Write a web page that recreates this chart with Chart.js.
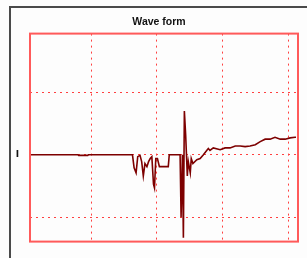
<!DOCTYPE html>
<html lang="en">
<head>
  <meta charset="UTF-8">
  <title>Wave form</title>
  <script src="https://cdn.jsdelivr.net/npm/chart.js@4.4.0/dist/chart.umd.min.js"></script>
  <style>
    body {
      margin: 0;
      background: #fdfdfd;
    }
    canvas {
      display: block;
    }
  </style>
</head>
<body>

<canvas id="waveChart" width="307" height="258"></canvas>

<script>
  // time axis (arbitrary units, grid every 10) and current samples
  const time = [0.7, 8.0, 8.1, 9.5, 9.6, 16.3, 16.55, 16.85, 17.1, 17.45, 17.7, 17.95, 18.2, 18.5, 18.75,
    19.0, 19.25, 19.5, 19.65, 19.85, 20.1, 20.4, 21.75, 21.9, 23.55, 23.7, 23.9, 24.05, 24.2, 24.4,
    24.65, 24.8, 25.1, 25.25, 25.5, 26.1, 26.6, 27.1, 27.6, 27.85, 28.1, 28.6, 29.65, 30.4, 31.15,
    31.95, 32.7, 33.45, 34.2, 35.0, 35.75, 36.5, 37.25, 38.0, 38.8, 39.55, 40.3, 41.05, 41.2];
  const current = [0, 0, -0.01, -0.01, 0, 0, -0.21, -0.29, -0.03, -0.01, -0.11, -0.34, -0.14, -0.19, -0.11,
    -0.06, -0.03, -0.47, -0.53, -0.06, -0.06, -0.19, -0.19, 0, 0, -1.0, 0, -1.33, 0.70, 0.31,
    -0.34, -0.11, -0.29, -0.06, -0.14, -0.08, -0.06, 0, 0.07, 0.10, 0.07, 0.11, 0.08, 0.11, 0.11,
    0.14, 0.14, 0.13, 0.14, 0.16, 0.21, 0.25, 0.25, 0.28, 0.25, 0.25, 0.27, 0.28, 0.28];

  const xTicks = [10, 20, 30, 40];
  const yTicks = [-1, 0, 1];

  // red plot frame and grey outer frame; title centred on the grey frame
  const framePlugin = {
    id: 'frames',
    afterLayout(chart) {
      if (chart.titleBlock) {
        chart.titleBlock.left = 20;
        chart.titleBlock.right = 298;
      }
    },
    afterDraw(chart) {
      const ctx = chart.ctx;
      const a = chart.chartArea;
      ctx.save();
      ctx.strokeStyle = '#ff5a5a';
      ctx.lineWidth = 2;
      ctx.strokeRect(a.left, a.top, a.right - a.left, a.bottom - a.top);
      ctx.strokeStyle = '#4a4a4a';
      ctx.beginPath();
      ctx.moveTo(10, chart.height);
      ctx.lineTo(10, 7);
      ctx.lineTo(chart.width, 7);
      ctx.stroke();
      ctx.restore();
    }
  };

  new Chart(document.getElementById('waveChart'), {
    type: 'line',
    data: {
      datasets: [{
        data: time.map((t, i) => ({ x: t, y: current[i] })),
        borderColor: '#7d0000',
        borderWidth: 1.6,
        pointRadius: 0,
        tension: 0
      }]
    },
    options: {
      responsive: false,
      animation: false,
      layout: { padding: { left: 10, right: 9, top: 8, bottom: 11 } },
      plugins: {
        legend: { display: false },
        tooltip: { enabled: false },
        title: {
          display: true,
          text: 'Wave form',
          color: '#111',
          font: { family: 'Liberation Sans', size: 10.5, weight: 'bold' },
          padding: { top: 8, bottom: 5 }
        }
      },
      scales: {
        x: {
          type: 'linear',
          min: 0.7,
          max: 41.5,
          afterBuildTicks: s => { s.ticks = xTicks.map(v => ({ value: v })); },
          afterFit: s => { s.height = 0; },
          ticks: { display: false },
          grid: { color: '#ff4040', lineWidth: 1, drawTicks: false },
          border: { display: false, dash: [2, 4] }
        },
        y: {
          min: -1.39,
          max: 1.94,
          afterBuildTicks: s => { s.ticks = yTicks.map(v => ({ value: v })); },
          afterFit: s => { s.width = 20; },
          ticks: {
            padding: 11,
            color: '#111',
            font: { family: 'DejaVu Sans', size: 9, weight: 'bold' },
            callback: v => v === 0 ? 'I' : ''
          },
          grid: { color: '#ff4040', lineWidth: 1, drawTicks: false },
          border: { display: false, dash: [2, 4] }
        }
      }
    },
    plugins: [framePlugin]
  });
</script>

</body>
</html>
